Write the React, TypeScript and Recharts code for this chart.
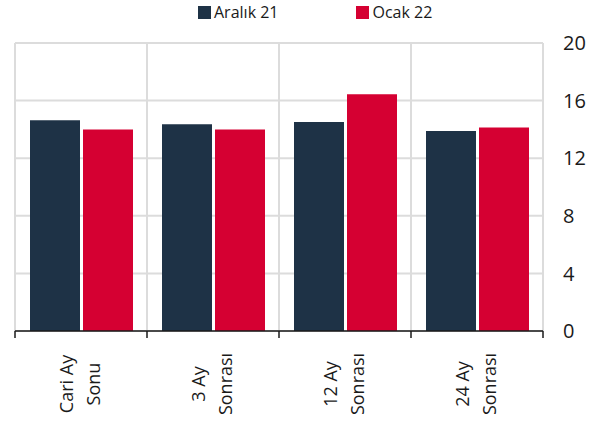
import { BarChart, Bar, XAxis, YAxis, CartesianGrid, ReferenceLine } from "recharts";

const categories = ["Cari Ay\nSonu", "3 Ay\nSonrası", "12 Ay\nSonrası", "24 Ay\nSonrası"];
const aralik21 = [14.63, 14.35, 14.51, 13.89];
const ocak22 = [14.0, 14.0, 16.44, 14.13];
const yTicks = [0, 4, 8, 12, 16, 20];
const edgeTicks = [0, 1, 2, 3, 4];

const series = [
  { key: "aralik", label: "Aralık 21", color: "#1e3246" },
  { key: "ocak", label: "Ocak 22", color: "#d50032" },
];

const data = categories.map((c, i) => ({
  name: c,
  aralik: aralik21[i],
  ocak: ocak22[i],
}));

const FONT = "'Open Sans', 'Noto Sans', sans-serif";

function CategoryTick(props: any) {
  const { x, payload } = props;
  const lines = String(payload.value).split("\n");
  return (
    <g transform={`translate(${x},384) rotate(-90)`}>
      {lines.map((l, i) => (
        <text
          key={i}
          x={0}
          y={-8 + i * 27}
          textAnchor="middle"
          fontSize={18}
          fill="#1a1a1a"
          fontFamily={FONT}
        >
          {l}
        </text>
      ))}
    </g>
  );
}

// edge axis only draws the tick marks, no labels
const NoLabel = () => <g />;

export default function App() {
  return (
    <div style={{ position: "absolute", left: 0, top: 0, width: 614, height: 427, background: "#fff" }}>
      <div
        style={{
          position: "absolute",
          top: 2,
          left: 198,
          display: "flex",
          fontFamily: FONT,
          fontSize: 16,
          color: "#1a1a1a",
          lineHeight: "20px",
        }}
      >
        {series.map((s, i) => (
          <div key={s.key} style={{ display: "flex", alignItems: "center", marginRight: i === 0 ? 78 : 0 }}>
            <span style={{ width: 13, height: 13, background: s.color, display: "inline-block", marginRight: 3 }} />
            <span>{s.label}</span>
          </div>
        ))}
      </div>
      <BarChart
        width={614}
        height={427}
        data={data}
        margin={{ top: 43, right: 11, left: 15, bottom: 0 }}
        barCategoryGap={15}
        barGap={3}
      >
        <CartesianGrid vertical={false} stroke="#dcdcdc" strokeWidth={2} />
        {edgeTicks.map((t) => (
          <ReferenceLine
            key={t}
            xAxisId="a"
            x={t}
            stroke="#dcdcdc"
            strokeWidth={2}
            ifOverflow="visible"
          />
        ))}
        <XAxis
          xAxisId="cat"
          dataKey="name"
          height={88}
          interval={0}
          tickLine={false}
          axisLine={false}
          tick={<CategoryTick />}
        />
        <XAxis
          xAxisId="a"
          type="number"
          dataKey={() => 0}
          domain={[0, 4]}
          ticks={edgeTicks}
          height={8}
          tick={NoLabel}
          tickSize={7}
          tickLine={{ stroke: "#1a1a1a", strokeWidth: 1.5 }}
          axisLine={{ stroke: "#1a1a1a", strokeWidth: 1.5 }}
        />
        <YAxis
          orientation="right"
          domain={[0, 20]}
          ticks={yTicks}
          width={60}
          axisLine={false}
          tickLine={false}
          tickMargin={14}
          tick={{ fontSize: 20, fill: "#1a1a1a", fontFamily: FONT }}
        />
        {series.map((s) => (
          <Bar
            key={s.key}
            xAxisId="cat"
            dataKey={s.key}
            name={s.label}
            fill={s.color}
            isAnimationActive={false}
          />
        ))}
      </BarChart>
    </div>
  );
}
